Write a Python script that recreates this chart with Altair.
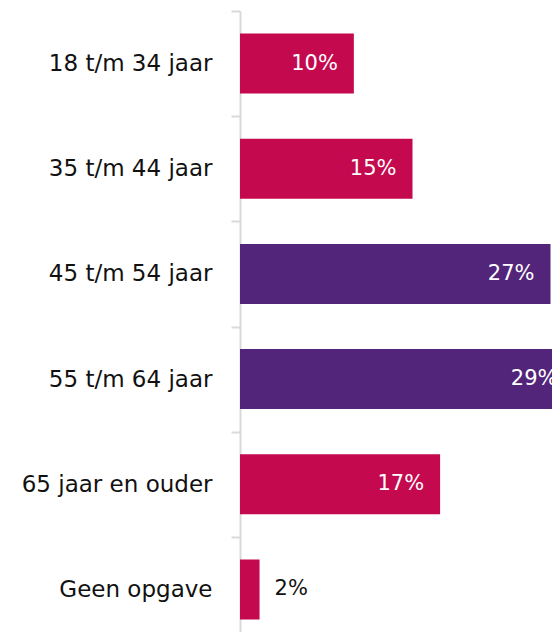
import altair as alt
import pandas as pd

categories = ["18 t/m 34 jaar", "35 t/m 44 jaar", "45 t/m 54 jaar",
              "55 t/m 64 jaar", "65 jaar en ouder", "Geen opgave"]
values = [9.9, 15.0, 27.0, 29.0, 17.4, 1.7]
colors = ["#C4094F", "#C4094F", "#53257A", "#53257A", "#C4094F", "#C4094F"]

df = pd.DataFrame({"cat": categories, "value": values, "color": colors})

FONT = "DejaVu Sans"

y = alt.Y("cat:N", sort=categories, title=None,
          scale=alt.Scale(paddingInner=0, paddingOuter=0, rangeMax=631),
          axis=alt.Axis(tickBand="extent", tickSize=9, tickColor="#D9D9D9",
                        tickWidth=2, domainColor="#D9D9D9", domainWidth=2,
                        labelFont=FONT, labelFontSize=23, labelColor="#111111",
                        labelPadding=19, labelLimit=300))
x = alt.X("value:Q", title=None, axis=None,
          scale=alt.Scale(domain=[0, 30], rangeMax=345, nice=False))

base = alt.Chart(df).encode(y=y, x=x)

bars = base.mark_bar(height=alt.RelativeBandSize(0.57)).encode(
    color=alt.Color("color:N", scale=None))

inside = base.transform_filter("datum.value >= 5").transform_calculate(
    label="format(datum.value, '.0f') + '%'"
).mark_text(align="right", baseline="middle", dx=-16, font=FONT,
            fontSize=21, color="white").encode(text="label:N")

outside = base.transform_filter("datum.value < 5").transform_calculate(
    label="format(datum.value, '.0f') + '%'"
).mark_text(align="left", baseline="middle", dx=15, font=FONT,
            fontSize=21, color="#111111").encode(text="label:N")

chart = alt.layer(bars, inside, outside).properties(
    width=312, height=621,
    autosize=alt.AutoSizeParams(type="none"),
    padding={"left": 232, "top": 3, "right": 0, "bottom": 0},
).configure_view(stroke=None)

chart.save("out.html", embed_options={"renderer": "svg", "actions": False})
